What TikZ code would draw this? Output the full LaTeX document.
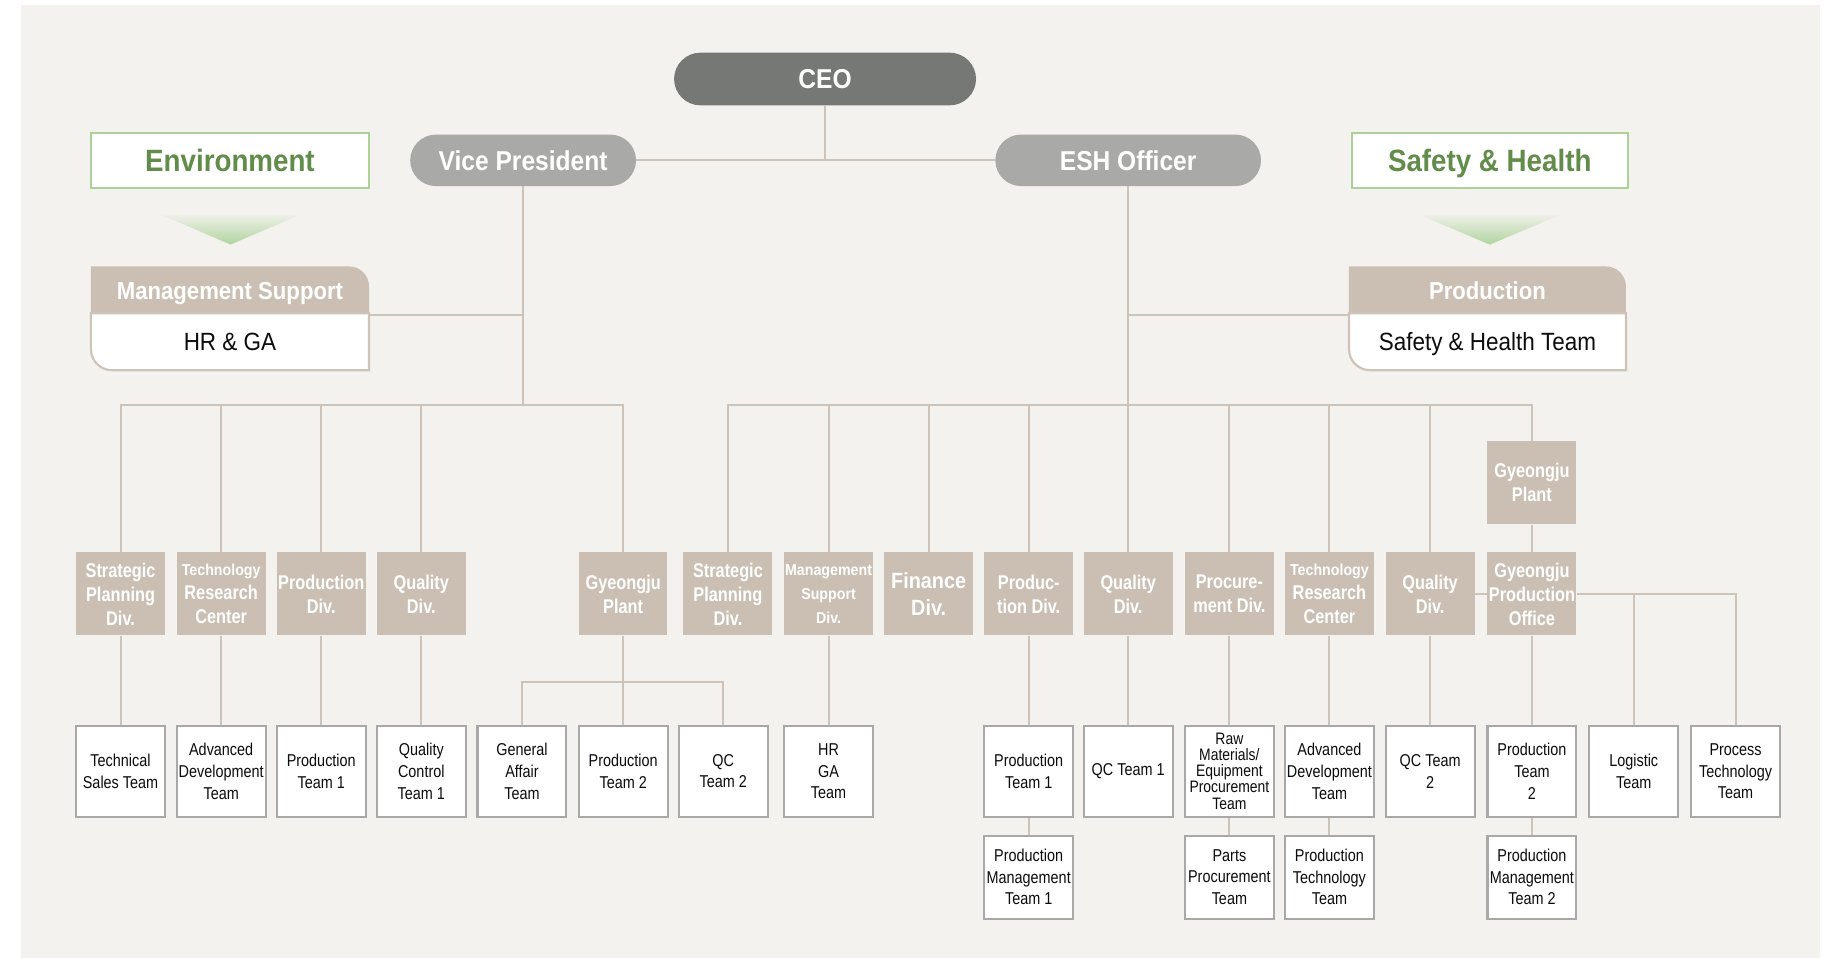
\documentclass[tikz,border=0pt]{standalone}
\usepackage{fontspec}
\setmainfont{Liberation Sans}
\newfontfamily\condfont{Liberation Sans}[FakeStretch=0.9]
\newfontfamily\divfont{Liberation Sans}[FakeStretch=0.82]
\newfontfamily\teamfont{Liberation Sans}[FakeStretch=0.84]

\definecolor{pagebg}{RGB}{243,242,238}
\definecolor{tanfill}{RGB}{203,191,179}
\definecolor{linkc}{RGB}{206,195,184}
\definecolor{teamedge}{RGB}{168,168,168}
\definecolor{ceofill}{RGB}{118,120,118}
\definecolor{execfill}{RGB}{169,170,168}
\definecolor{greenedge}{RGB}{172,209,152}
\definecolor{greentext}{RGB}{98,140,74}
\definecolor{greentip}{RGB}{176,212,158}
\definecolor{inktext}{RGB}{12,12,12}

% one drawing unit
\newlength\px
\setlength\px{0.6pt}

\pgfdeclarelayer{paper}
\pgfdeclarelayer{panels}
\pgfsetlayers{paper,panels,main}

\tikzset{
  link/.style={draw=linkc, line width=1pt},
  ceobox/.style={rectangle, rounded corners=22.5\px, fill=ceofill, text=white,
    minimum width=258\px, minimum height=45\px, inner sep=0pt,
    font=\condfont\bfseries\fontsize{14pt}{16pt}\selectfont},
  execbox/.style={ceobox, fill=execfill, minimum height=44\px, rounded corners=22\px},
  areabox/.style={rectangle, fill=white, draw=greenedge, line width=1.1pt,
    minimum width=236\px, minimum height=47\px, inner sep=0pt, text=greentext,
    text height=11.3pt, text depth=0pt,
    font=\condfont\bfseries\fontsize{15.8pt}{18pt}\selectfont},
  panelhead/.style={rectangle, minimum width=237\px, minimum height=41\px, inner sep=0pt,
    text height=9pt, text depth=0pt,
    text=white, font=\condfont\bfseries\fontsize{12.6pt}{14pt}\selectfont},
  panelbody/.style={rectangle, minimum width=237\px, minimum height=47\px, inner sep=0pt,
    text height=9.2pt, text depth=0pt,
    text=inktext, font=\condfont\fontsize{12.8pt}{14pt}\selectfont},
  divbox/.style={rectangle, fill=tanfill, text=white, minimum width=76\px,
    minimum height=71\px, inner sep=0pt, align=center,
    font=\divfont\bfseries\fontsize{10.2pt}{12.3pt}\selectfont},
  teambox/.style={rectangle, fill=white, draw=teamedge, line width=1.1pt,
    minimum width=76\px, minimum height=78\px, inner sep=0pt, align=center,
    text=inktext, font=\teamfont\fontsize{8.8pt}{11.1pt}\selectfont},
  subteam/.style={teambox, minimum height=71\px},
}
% smaller first line used in a few division boxes
\newcommand\smallline[1]{{\condfont\fontsize{8.1pt}{12.3pt}\selectfont #1}}

\begin{document}
\begin{tikzpicture}[x=0.6pt, y=-0.6pt]
\useasboundingbox (0,0) rectangle (1568,818.6);

\begin{pgfonlayer}{paper}
  \fill[white] (0,0) rectangle (1568,818.6);
  \fill[pagebg] (18,4.3) rectangle (1555,818.6);
\end{pgfonlayer}

% ---------- top level ----------
\node[ceobox] (ceo) at (705,67.5) {CEO};
\node[execbox, minimum width=193\px] (vp) at (447,137) {Vice President};
\node[execbox, minimum width=227\px] (esh) at (964,137) {ESH Officer};

% ---------- area labels ----------
\node[areabox, minimum width=237\px] (env) at (196.5,137.5) {Environment};
\node[areabox] (sh) at (1273,137.5) {Safety \& Health};

\shade[top color=greentip!10!pagebg, bottom color=greentip]
  (139,184) -- (255,184) -- (197,209) -- cycle;
\shade[top color=greentip!10!pagebg, bottom color=greentip]
  (1214,184) -- (1332,184) -- (1273,209) -- cycle;

% ---------- staff panels ----------
\node[panelhead] (mshead) at (196.5,248.5) {Management Support};
\node[panelbody] (msbody) at (196.5,291.5) {HR \& GA};
\node[panelhead, minimum width=236\px] (prhead) at (1271,248.5) {Production};
\node[panelbody, minimum width=236\px] (prbody) at (1271,291.5) {Safety \& Health Team};

\begin{pgfonlayer}{panels}
  \foreach \h/\b in {mshead/msbody, prhead/prbody}{
    \fill[tanfill] (\h.south west) -- (\h.north west)
      -- ([xshift=-17\px]\h.north east) arc[start angle=90, end angle=0, radius=17\px]
      -- (\h.south east) -- cycle;
    \filldraw[fill=white, draw=linkc, line width=1.1pt]
      (\b.north west) -- (\b.north east) -- ([yshift=-1\px]\b.south east)
      -- ([xshift=18\px, yshift=-1\px]\b.south west)
      arc[start angle=270, end angle=180, radius=18\px]
      -- cycle;
  }
\end{pgfonlayer}

% ---------- divisions under the Vice President ----------
\node[divbox] (spa) at (103,507.5) {Strategic\\Planning\\Div.};
\node[divbox] (tra) at (189,507.5) {\smallline{Technology}\\Research\\Center};
\node[divbox] (pda) at (274.5,507.5) {Production\\Div.};
\node[divbox] (qda) at (360,507.5) {Quality\\Div.};
\node[divbox, minimum width=75\px] (gpa) at (532.5,507.5) {Gyeongju\\Plant};

% ---------- divisions under the ESH Officer ----------
\node[divbox] (spb) at (622,507.5) {Strategic\\Planning\\Div.};
\node[divbox, font=\condfont\bfseries\fontsize{8.1pt}{12.3pt}\selectfont] (msd) at (708,507.5) {Management\\Support\\Div.};
\node[divbox, font=\condfont\bfseries\fontsize{11.3pt}{13.8pt}\selectfont] (fin) at (793.5,507.5) {Finance\\Div.};
\node[divbox] (pdb) at (879,507.5) {Produc-\\tion Div.};
\node[divbox] (qdb) at (964,507.5) {Quality\\Div.};
\node[divbox] (prc) at (1050.5,507.5) {Procure-\\ment Div.};
\node[divbox] (trb) at (1136,507.5) {\smallline{Technology}\\Research\\Center};
\node[divbox] (qdc) at (1222,507.5) {Quality\\Div.};
\node[divbox] (gpo) at (1309,507.5) {Gyeongju\\Production\\Office};
\node[divbox] (gpb) at (1309,412.5) {Gyeongju\\Plant};

% ---------- teams ----------
\node[teambox] (tst) at (103,659) {Technical\\Sales Team};
\node[teambox] (ada) at (189,659) {Advanced\\Development\\Team};
\node[teambox] (pta) at (274.5,659) {Production\\Team 1};
\node[teambox] (qct) at (360,659) {Quality\\Control\\Team 1};
\node[teambox] (gat) at (446,659) {General\\Affair\\Team};
\node[teambox] (ptb) at (532.5,659) {Production\\Team 2};
\node[teambox] (qca) at (618,659) {QC\\Team 2};
\node[teambox] (hrg) at (708,659) {HR\\GA\\Team};
\node[teambox] (ptc) at (879,659) {Production\\Team 1};
\node[teambox] (qcb) at (964,659) {QC Team 1};
\node[teambox, font=\teamfont\fontsize{8.5pt}{8.25pt}\selectfont] (raw) at (1050.5,659) {Raw\\Materials/\\Equipment\\Procurement\\Team};
\node[teambox] (adb) at (1136,659) {Advanced\\Development\\Team};
\node[teambox] (qcc) at (1222,659) {QC Team\\2};
\node[teambox] (ptd) at (1309,659) {Production\\Team\\2};
\node[teambox] (lgt) at (1396,659) {Logistic\\Team};
\node[teambox] (pct) at (1483,659) {Process\\Technology\\Team};

\node[subteam] (pma) at (879,749.5) {Production\\Management\\Team 1};
\node[subteam] (ppt) at (1050.5,749.5) {Parts\\Procurement\\Team};
\node[subteam] (ptt) at (1136,749.5) {Production\\Technology\\Team};
\node[subteam] (pmb) at (1309,749.5) {Production\\Management\\Team 2};

% ---------- connectors ----------
\coordinate (lbus) at (447,346);
\coordinate (rbus) at (964,346);
\coordinate (gpj) at (532.5,583);

\draw[link] (ceo.south) -- (ceo.south |- vp.east);
\draw[link] (vp.east) -- (esh.west);

\draw[link] (vp.south) -- (lbus);
\draw[link] (mshead.south east) -- (mshead.south east -| lbus);
\draw[link] (spa.north) |- (lbus) -| (gpa.north);
\foreach \d in {tra,pda,qda}{ \draw[link] (\d.north) -- (\d.north |- lbus); }

\draw[link] (esh.south) -- (qdb.north);
\draw[link] (prhead.south west -| rbus) -- (prhead.south west);
\draw[link] (spb.north) |- (rbus) -| (gpb.north);
\foreach \d in {msd,fin,pdb,prc,trb,qdc}{ \draw[link] (\d.north) -- (\d.north |- rbus); }
\draw[link] (gpb.south) -- (gpo.north);

\foreach \d/\t in {spa/tst, tra/ada, pda/pta, qda/qct, gpa/ptb, msd/hrg,
                   pdb/ptc, qdb/qcb, prc/raw, trb/adb, qdc/qcc, gpo/ptd,
                   ptc/pma, raw/ppt, adb/ptt, ptd/pmb}{
  \draw[link] (\d.south) -- (\t.north);
}
\draw[link] (gat.north) |- (gpj) -| (qca.north);

\draw[link] (qdc.east) -- (gpo.west);
\draw[link] (gpo.east) -| (pct.north);
\draw[link] (lgt.north) |- (gpo.east);
\end{tikzpicture}
\end{document}
